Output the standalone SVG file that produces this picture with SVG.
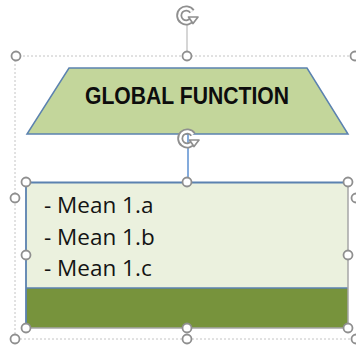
<svg xmlns="http://www.w3.org/2000/svg" width="356" height="348" viewBox="0 0 356 348">
  <style>
    .frame { fill: none; stroke: #c4c4c4; stroke-width: 1; stroke-dasharray: 2 2; }
    .handle { fill: #ffffff; stroke: #8f8f8f; stroke-width: 1.8; }
    .stem { stroke: #c8c8c8; stroke-width: 1.5; }
    .title { font-family: "Liberation Sans", Arial, sans-serif; font-weight: bold; font-size: 23px; fill: #0d0d0d; }
    .item { font-family: "Open Sans", "Liberation Sans", sans-serif; font-size: 22.5px; fill: #141414; }
  </style>
  <defs>
    <!-- rotation grip: outlined circular arrow -->
    <g id="rotate">
      <path d="M 6 -3.5 A 7 7 0 1 0 6.5 3.5" fill="none" stroke="#8f8f8f" stroke-width="6" stroke-linecap="butt"/>
      <path d="M 6 -3.5 A 7 7 0 1 0 6.5 3.5" fill="none" stroke="#ffffff" stroke-width="2.4" stroke-linecap="butt"/>
      <path d="M 2.5 2 L 12 2 L 7 8.5 Z" fill="#ffffff" stroke="#8f8f8f" stroke-width="1.7" stroke-linejoin="round"/>
    </g>
  </defs>

  <rect width="356" height="348" fill="#ffffff"/>

  <!-- group selection frame -->
  <path class="frame" d="M 15 56 H 355 M 15 56 V 339 H 355"/>
  <line class="stem" x1="187" y1="24" x2="187" y2="52"/>
  <use href="#rotate" x="186" y="15"/>

  <!-- trapezoid: global function -->
  <g id="global-function">
    <polygon points="69,68 307,68 348,134 27,134" fill="#c3d69b" stroke="#5b82b0" stroke-width="1.5"/>
    <text class="title" x="187" y="104" text-anchor="middle" textLength="204" lengthAdjust="spacingAndGlyphs">GLOBAL FUNCTION</text>
  </g>

  <!-- connectors -->
  <g id="connectors">
    <line x1="188" y1="134" x2="188" y2="182" stroke="#5b8fd0" stroke-width="1.5"/>
  </g>

  <!-- box: means list -->
  <g id="means">
    <rect x="26" y="182" width="322" height="106" fill="#ebf1de"/>
    <rect x="26" y="288" width="322" height="40" fill="#77933c"/>
    <line x1="26" y1="288" x2="348" y2="288" stroke="#5b82b0" stroke-width="1.5"/>
    <path d="M 26 328 V 182.5 H 348" fill="none" stroke="#5b82b0" stroke-width="1.8"/>
    <path d="M 348 182 V 328 H 26" fill="none" stroke="#a6a6a6" stroke-width="1.5"/>
    <text class="item" x="44" y="213">- Mean 1.a</text>
    <text class="item" x="44" y="244.5">- Mean 1.b</text>
    <text class="item" x="44" y="276">- Mean 1.c</text>
  </g>

  <!-- rotation grip of the selected box -->
  <use href="#rotate" x="187" y="138"/>

  <!-- sizing handles -->
  <g id="handles">
    <circle class="handle" cx="16" cy="56" r="4.5"/>
    <circle class="handle" cx="187" cy="56" r="4.5"/>
    <circle class="handle" cx="355" cy="56" r="4.5"/>
    <circle class="handle" cx="15" cy="198" r="4.5"/>
    <circle class="handle" cx="356" cy="198" r="4.5"/>
    <circle class="handle" cx="15" cy="339" r="4.5"/>
    <circle class="handle" cx="187" cy="339" r="4.5"/>
    <circle class="handle" cx="356" cy="339" r="4.5"/>
    <circle class="handle" cx="26" cy="182" r="4.5"/>
    <circle class="handle" cx="187" cy="182" r="4.5"/>
    <circle class="handle" cx="348" cy="182" r="4.5"/>
    <circle class="handle" cx="26" cy="255" r="4.5"/>
    <circle class="handle" cx="348" cy="255" r="4.5"/>
    <circle class="handle" cx="26" cy="328" r="4.5"/>
    <circle class="handle" cx="187" cy="328" r="4.5"/>
    <circle class="handle" cx="348" cy="328" r="4.5"/>
  </g>
</svg>
